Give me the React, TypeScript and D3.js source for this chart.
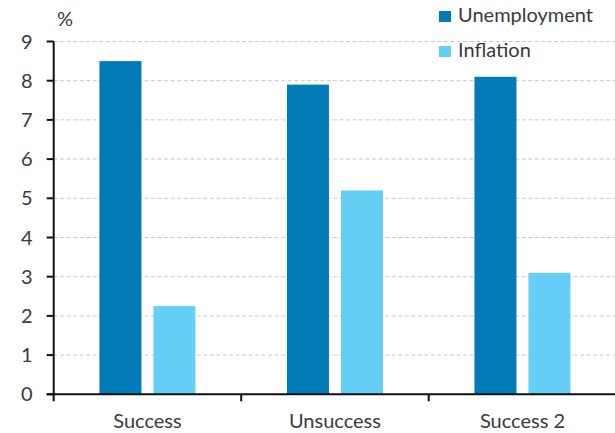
import React from "react";
import * as d3 from "d3";

const categories = ["Success", "Unsuccess", "Success 2"];
const seriesNames = ["Unemployment", "Inflation"];
const unemployment = [8.5, 7.9, 8.1];
const inflation = [2.25, 5.2, 3.1];
const yTicks = [0, 1, 2, 3, 4, 5, 6, 7, 8, 9];
const colors = ["#007bb6", "#66cff5"];

const W = 615;
const H = 433;
const margin = { left: 53.7, right: 0, top: 41.5, bottom: 38.7 };
const FONT = "Lato, 'Noto Sans', sans-serif";
const TEXT = "#3a3a3a";
const FS = 20;

export default function App() {
  const x0 = d3
    .scaleBand<string>()
    .domain(categories)
    .range([margin.left, margin.left + 187.5 * 3])
    .padding(0);
  const groupW = 96;
  const x1 = d3
    .scaleBand<string>()
    .domain(seriesNames)
    .range([0, groupW])
    .paddingInner(12 / 54);
  const y = d3.scaleLinear().domain([0, 9]).range([H - margin.bottom, margin.top]);
  const values = [unemployment, inflation];
  const xEnd = W;
  const y0 = y(0);

  return (
    <svg
      width={W}
      height={H}
      style={{ position: "absolute", left: 0, top: 0, background: "#fff" }}
      fontFamily={FONT}
    >
      {yTicks.filter((t) => t > 0).map((t) => (
        <line
          key={"g" + t}
          x1={margin.left}
          x2={xEnd}
          y1={y(t)}
          y2={y(t)}
          stroke="#c9c9c9"
          strokeWidth={1}
          strokeDasharray="4,2.5"
        />
      ))}
      {categories.map((c, i) => {
        const gx = (x0(c) as number) + x0.bandwidth() / 2 - groupW / 2;
        return seriesNames.map((s, j) => (
          <rect
            key={c + s}
            x={gx + (x1(s) as number)}
            y={y(values[j][i])}
            width={x1.bandwidth()}
            height={y0 - y(values[j][i])}
            fill={colors[j]}
          />
        ));
      })}
      <line x1={margin.left} x2={margin.left} y1={y(9)} y2={y0} stroke="#111" strokeWidth={2} />
      {yTicks.map((t) => (
        <g key={"t" + t}>
          <line x1={margin.left - 7} x2={margin.left} y1={y(t)} y2={y(t)} stroke="#111" strokeWidth={2} />
          <text
            x={margin.left - 21}
            y={y(t)}
            dy="0.35em"
            textAnchor="end"
            fontSize={FS}
            fill={TEXT}
          >
            {t}
          </text>
        </g>
      ))}
      <text x={57} y={26} fontSize={FS} fill={TEXT}>
        %
      </text>
      <line x1={margin.left - 7} x2={xEnd} y1={y0} y2={y0} stroke="#111" strokeWidth={2} />
      {categories.map((c) => (
        <g key={"x" + c}>
          <line
            x1={x0(c) as number}
            x2={x0(c) as number}
            y1={y0}
            y2={y0 + 7}
            stroke="#111"
            strokeWidth={2}
          />
          <text
            x={(x0(c) as number) + x0.bandwidth() / 2}
            y={y0 + 34}
            textAnchor="middle"
            fontSize={FS}
            fill={TEXT}
          >
            {c}
          </text>
        </g>
      ))}
      {seriesNames.map((s, j) => (
        <g key={"l" + s} transform={`translate(439, ${10 + j * 35})`}>
          <rect x={0} y={1} width={12} height={11} fill={colors[j]} />
          <text x={19} y={12} fontSize={FS} fill={TEXT}>
            {s}
          </text>
        </g>
      ))}
    </svg>
  );
}
